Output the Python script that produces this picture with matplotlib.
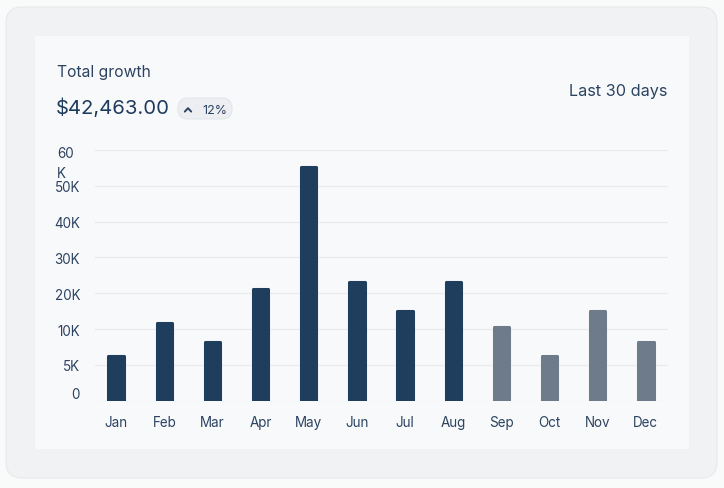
import numpy as np
import matplotlib
matplotlib.use("Agg")
import matplotlib.pyplot as plt
from matplotlib.patches import FancyBboxPatch, Rectangle
from matplotlib.lines import Line2D
from matplotlib.transforms import IdentityTransform, blended_transform_factory

plt.rcParams['font.family'] = ['Inter', 'DejaVu Sans']

# data
months = ["Jan", "Feb", "Mar", "Apr", "May", "Jun",
          "Jul", "Aug", "Sep", "Oct", "Nov", "Dec"]
growth = [6200, 11700, 8200, 21300, 55200, 23200,
          15000, 23200, 10700, 6200, 15000, 8200]
highlight = [True] * 8 + [False] * 4
tick_vals = [0, 5000, 10000, 20000, 30000, 40000, 50000, 60000]
tick_labels = ["0", "5K", "10K", "20K", "30K", "40K", "50K", "60\nK"]
total_text = "$42,463.00"
change_text = "12%"

W, H = 724, 489
dark = "#1f3d5c"
grey = "#6d7b8b"
txt = "#2c4361"

fig = plt.figure(figsize=(W / 100, H / 100), dpi=100)
fig.patch.set_facecolor("#f9fafa")

# outer card and inner panel (behind the axes)
card = FancyBboxPatch((6, H - 479), 711, 471, boxstyle="round,pad=0,rounding_size=16",
                      transform=IdentityTransform(), facecolor="#f1f2f4",
                      edgecolor="#e7e9ec", linewidth=0.8, zorder=-3)
fig.add_artist(card)
panel = Rectangle((35, H - 450), 654, 413, transform=IdentityTransform(),
                  facecolor="#f8f9fb", edgecolor="none", zorder=-2)
fig.add_artist(panel)

# header texts
fig.text(57 / W, 1 - 72.5 / H, "Total growth", fontsize=11.3, color=txt, va="center", ha="left")
fig.text(56 / W, 1 - 108.5 / H, total_text, fontsize=14.6, color="#1e3a5c", va="center", ha="left")
fig.text(667 / W, 1 - 91.5 / H, "Last 30 days", fontsize=11.7, color=txt, va="center", ha="right")

badge = FancyBboxPatch((178, H - 120), 54, 21, boxstyle="round,pad=0,rounding_size=10",
                       transform=IdentityTransform(), facecolor="#eceef1",
                       edgecolor="#e3e6ea", linewidth=0.8)
fig.add_artist(badge)
cx, cy = 188, 111
chev = Line2D([cx - 3.2, cx, cx + 3.2], [H - cy - 1.6, H - cy + 1.8, H - cy - 1.6],
              transform=IdentityTransform(), color=txt, linewidth=1.4,
              solid_capstyle="round", solid_joinstyle="round")
fig.add_artist(chev)
fig.text(215 / W, 1 - 110.5 / H, change_text, fontsize=9, color=txt, va="center", ha="center")

# chart
ax = fig.add_axes([95 / W, 87.3 / H, 573 / W, 250.7 / H])
ax.set_facecolor("none")
idx = np.arange(len(tick_vals), dtype=float)


def fwd(v):
    return np.interp(v, tick_vals, idx)


def inv(u):
    return np.interp(u, idx, tick_vals)


ax.set_yscale("function", functions=(fwd, inv))
x = np.arange(len(months))
colors = [dark if h else grey for h in highlight]
ax.bar(x, growth, width=0.32, color=colors, edgecolor=colors, linewidth=2.2,
       joinstyle="round", zorder=3)
ax.set_ylim(0, 60000)
ax.set_xlim(-0.44, 11.46)

ax.set_yticks(tick_vals)
ax.set_yticklabels(["0", "5K", "10K", "20K", "30K", "40K", "50K", ""])
ax.yaxis.grid(True, color="#e8ebee", linewidth=0.9, zorder=0)
ax.set_axisbelow(True)
for s in ax.spines.values():
    s.set_visible(False)
ax.tick_params(axis="y", length=0, pad=10.8, labelsize=9.7, labelcolor=txt)
ax.tick_params(axis="x", length=0, pad=10.5, labelsize=9.7, labelcolor=txt)
ax.set_xticks(x)
ax.set_xticklabels(months)
ylab = ax.get_yticklabels()
ylab[0].set_verticalalignment("bottom")

# top label wraps onto two lines in the reference
tr = blended_transform_factory(fig.transFigure, ax.transData)
ax.annotate(tick_labels[-1], xy=(57 / W, tick_vals[-1]), xycoords=tr,
            xytext=(0, -9.3), textcoords="offset points", fontsize=9.7, color=txt,
            ha="left", va="center", linespacing=1.5, annotation_clip=False)

fig.savefig("out.png", dpi=100, facecolor=fig.get_facecolor())
